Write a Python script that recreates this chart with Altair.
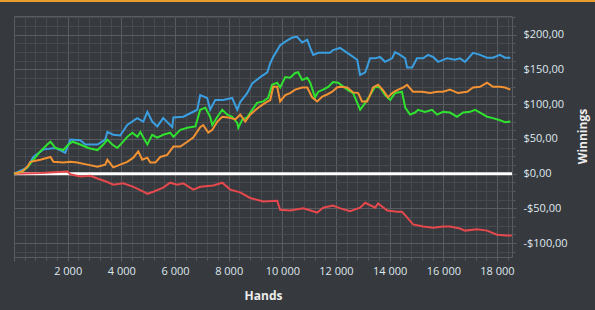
import altair as alt
import pandas as pd

# ---- data ----
blue_h = [0, 500, 720, 1100, 1540, 1910, 2100, 2470, 2660, 3110, 3400, 3480, 3700, 3960, 4220, 4590,
          4820, 4970, 5150, 5340, 5560, 5900, 5940, 6310, 6570, 6830, 6940, 7200, 7310, 7500, 7800,
          8130, 8320, 8430, 8690, 8880, 9180, 9440, 9550, 9660, 9920, 10110, 10370, 10550, 10740,
          10930, 11040, 11150, 11340, 11780, 11890, 12150, 12530, 12790, 12900, 13090, 13270, 13460,
          13640, 13830, 14090, 14200, 14390, 14580, 14650, 14840, 15020, 15250, 15430, 15620, 15810,
          16140, 16440, 16620, 16810, 17110, 17370, 17630, 17850, 18110, 18300, 18500]
blue_v = [0, 9, 24, 35, 37, 30, 49, 48, 42, 42, 49, 60, 56, 55, 70, 80,
          75, 89, 75, 68, 80, 67, 81, 82, 87, 92, 113, 109, 92, 106, 106,
          109, 92, 103, 116, 130, 139, 146, 159, 168, 185, 190, 196, 197, 189,
          193, 181, 171, 174, 174, 178, 181, 171, 164, 142, 146, 166, 166,
          168, 161, 166, 175, 171, 166, 153, 153, 166, 166, 171, 168, 161,
          166, 164, 166, 161, 174, 171, 167, 167, 171, 167, 167]

orange_h = [0, 300, 500, 610, 980, 1360, 1470, 1840, 2100, 2360, 2730, 3110, 3400, 3480, 3700, 3960,
            4220, 4450, 4630, 4780, 4970, 5080, 5270, 5450, 5710, 5940, 6200, 6460, 6680, 6940, 7050,
            7240, 7390, 7580, 7760, 7980, 8250, 8430, 8620, 8800, 9100, 9360, 9550, 9660, 9810, 9920,
            10110, 10290, 10480, 10740, 10930, 11110, 11300, 11490, 11670, 11860, 12040, 12150, 12420,
            12640, 12830, 12970, 13160, 13270, 13380, 13570, 13760, 13940, 14130, 14320, 14500, 14650,
            14870, 15210, 15510, 15770, 15990, 16250, 16550, 16890, 17110, 17370, 17630, 17850, 18110,
            18300, 18500]
orange_v = [0, 3, 10, 17, 20, 24, 17, 16, 17, 16, 13, 10, 13, 20, 9, 13,
            17, 23, 32, 20, 23, 16, 16, 24, 27, 39, 39, 46, 52, 67, 70,
            59, 63, 75, 82, 81, 78, 85, 75, 85, 95, 102, 106, 125, 125, 104,
            113, 116, 121, 124, 124, 110, 104, 111, 114, 118, 124, 125, 124,
            117, 116, 104, 104, 113, 124, 128, 120, 110, 117, 121, 124, 128,
            118, 118, 116, 118, 118, 121, 116, 118, 124, 125, 131, 125, 125,
            124, 121]

green_h = [0, 310, 500, 720, 980, 1240, 1360, 1540, 1840, 2030, 2180, 2470, 2770, 3110, 3330, 3480,
           3660, 3850, 4070, 4220, 4410, 4600, 4710, 4820, 4970, 5150, 5340, 5560, 5820, 5940, 6200,
           6460, 6760, 6940, 7130, 7310, 7390, 7580, 7760, 7950, 8130, 8320, 8360, 8510, 8690, 8880,
           9060, 9290, 9470, 9620, 9810, 9920, 10110, 10290, 10480, 10590, 10740, 10930, 11040, 11220,
           11340, 11520, 11710, 11890, 12080, 12420, 12640, 12900, 13090, 13270, 13460, 13640, 13830,
           14020, 14200, 14460, 14580, 14760, 14950, 15060, 15320, 15580, 15770, 15990, 16250, 16510,
           16740, 17000, 17180, 17370, 17630, 17850, 18110, 18300, 18500]
green_v = [0, 3, 9, 20, 32, 42, 46, 37, 34, 42, 46, 42, 37, 34, 42, 49,
           42, 37, 46, 53, 59, 53, 60, 52, 42, 56, 52, 56, 59, 53, 63,
           66, 68, 92, 95, 82, 70, 82, 92, 85, 82, 73, 66, 78, 81, 92,
           102, 104, 109, 128, 131, 124, 139, 138, 145, 146, 135, 138, 131, 110,
           118, 121, 125, 132, 131, 121, 116, 92, 102, 113, 125, 124, 113,
           106, 116, 118, 95, 85, 88, 92, 89, 92, 85, 89, 88, 82,
           88, 89, 92, 88, 82, 80, 77, 74, 75]

red_h = [0, 1000, 1990, 2100, 2470, 2850, 3110, 3480, 3700, 4070, 4450, 4820, 4970, 5190, 5560,
         5820, 6090, 6310, 6680, 6940, 7430, 7760, 8060, 8430, 8800, 9290, 9810, 9920, 10290, 10780,
         11300, 11520, 11890, 12160, 12530, 12900, 13090, 13460, 13570, 13910, 14280, 14460, 14650,
         14870, 15250, 15620, 15990, 16250, 16620, 16810, 17260, 17630, 18000, 18370, 18550]
red_v = [0, 1, 3, -1, -4, -3, -7, -12, -16, -14, -19, -26, -29, -26, -20,
         -13, -16, -14, -23, -19, -17, -13, -23, -27, -35, -40, -39, -52, -53, -50,
         -56, -49, -46, -50, -54, -49, -42, -49, -43, -53, -55, -55, -63,
         -73, -76, -78, -76, -76, -79, -82, -80, -82, -88, -89, -89]

series_names = ["red", "blue", "green", "orange"]
series_colors = ["#e5484d", "#3a9ee0", "#2fe22f", "#f39233"]

rows = []
for name, hs, vs in [("red", red_h, red_v), ("blue", blue_h, blue_v),
                     ("green", green_h, green_v), ("orange", orange_h, orange_v)]:
    for h, v in zip(hs, vs):
        rows.append({"series": name, "hands": h, "winnings": v})
df = pd.DataFrame(rows)

x_ticks = list(range(0, 18401, 400))
y_ticks = [-112.5 + 12.5 * i for i in range(28)]

MAJOR = "#595c60"
MINOR = "#46494d"
FONT = "Open Sans"

x_scale = alt.Scale(domain=[0, 18560], nice=False, zero=False)
y_scale = alt.Scale(domain=[-120, 227], nice=False, zero=False)

x_axis = alt.Axis(
    values=x_ticks,
    grid=True,
    gridColor={"condition": {"test": "datum.value % 2000 === 0", "value": MAJOR}, "value": MINOR},
    gridWidth=1,
    tickColor=MAJOR,
    tickSize={"condition": {"test": "datum.value % 2000 === 0", "value": 4}, "value": 3},
    domain=False,
    labelExpr="datum.value % 2000 === 0 && datum.value > 0 ? replace(format(datum.value, ','), ',', ' ') : ''",
    labelOverlap=False,
    labelFlush=False,
    labelPadding=4,
    labelFont=FONT,
    labelFontSize=11,
    labelColor="#dfe7ef",
    title="Hands",
    titleFont=FONT,
    titleFontSize=12,
    titleFontWeight="bold",
    titleColor="#ececec",
    titlePadding=14,
)

y_axis = alt.Axis(
    orient="right",
    values=y_ticks,
    grid=True,
    gridColor={"condition": {"test": "datum.value % 50 === 0", "value": MAJOR}, "value": MINOR},
    gridWidth=1,
    tickColor=MAJOR,
    tickSize={"condition": {"test": "datum.value % 50 === 0", "value": 4}, "value": 3},
    domain=False,
    labelExpr="datum.value % 50 === 0 ? (datum.value < 0 ? '-' : '') + '$' + format(abs(datum.value), 'd') + ',00' : ''",
    labelOverlap=False,
    labelFlush=False,
    labelPadding=7,
    labelFont=FONT,
    labelFontSize=11,
    labelColor="#dfe7ef",
    title="Winnings",
    titleFont=FONT,
    titleFontSize=12,
    titleFontWeight="bold",
    titleColor="#ececec",
    titleAngle=270,
    titleX=70,
    titleY=120,
    titleAlign="center",
    titleBaseline="middle",
)

zero_df = pd.DataFrame({"winnings": [0]})
zero_rule = alt.Chart(zero_df).mark_rule(color="#ffffff", strokeWidth=3).encode(
    y=alt.Y("winnings:Q", scale=y_scale, axis=y_axis)
)

lines = alt.Chart(df).mark_line(strokeWidth=2).encode(
    x=alt.X("hands:Q", scale=x_scale, axis=x_axis),
    y=alt.Y("winnings:Q", scale=y_scale, axis=y_axis),
    color=alt.Color("series:N", scale=alt.Scale(domain=series_names, range=series_colors), legend=None),
    order=alt.Order("hands:Q"),
    detail="series:N",
)

top_bar = alt.Chart(zero_df).mark_rule(color="#e89c2e", strokeWidth=2).encode(
    x=alt.value(-14), x2=alt.value(581), y=alt.value(-15)
)

chart = alt.layer(zero_rule, lines, top_bar).properties(
    width=498,
    height=241,
    autosize=alt.AutoSizeParams(type="none"),
    padding={"left": 14, "top": 16, "right": 83, "bottom": 53},
).configure(background="#36393d").configure_view(stroke=MAJOR, strokeWidth=1)

chart.save("out.html", embed_options={"renderer": "svg", "actions": False})
